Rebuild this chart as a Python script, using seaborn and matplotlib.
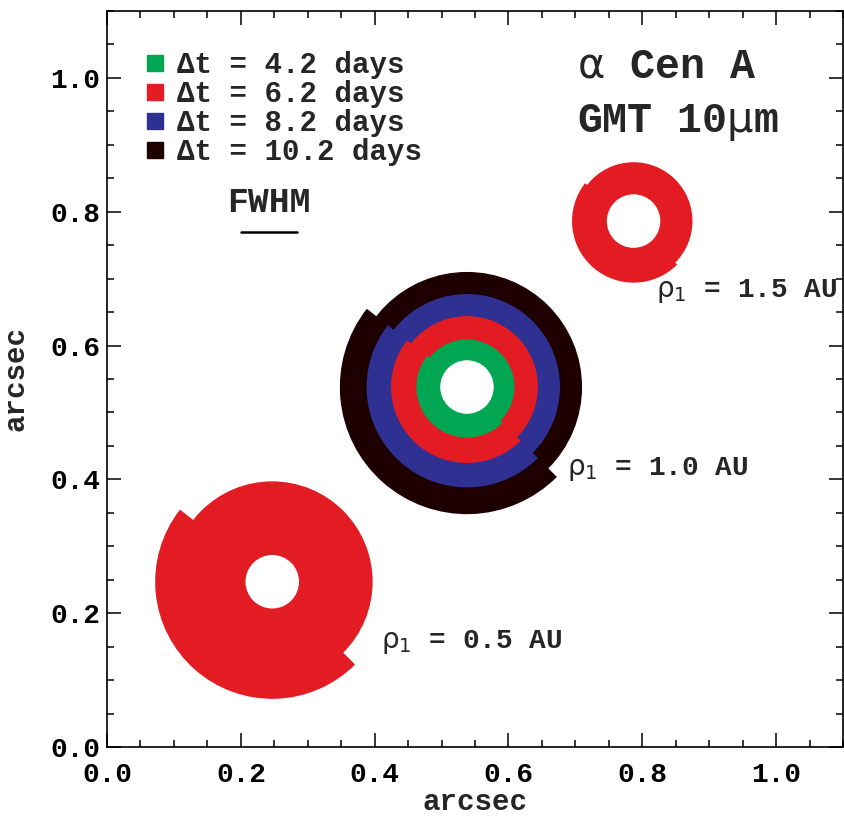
import matplotlib
matplotlib.use("Agg")
import matplotlib.pyplot as plt
from matplotlib.lines import Line2D
from matplotlib.patches import Circle, Wedge
from matplotlib.ticker import MultipleLocator
import pandas as pd
import seaborn as sns


# time baseline of each data set (days) and its colour
DT_DAYS = [4.2, 6.2, 8.2, 10.2]
DT_COLORS = ["#00a651", "#e31b23", "#2e3192", "#1e0000"]

# one row per ring, outermost first so inner rings sit on top
RING_RHO = [0.5, 1.0, 1.0, 1.0, 1.0, 1.5]
RING_DT = [6.2, 10.2, 8.2, 6.2, 4.2, 6.2]
RING_X = [0.247, 0.538, 0.538, 0.538, 0.538, 0.787]
RING_Y = [0.247, 0.538, 0.538, 0.538, 0.538, 0.786]
RING_R_NEAR = [0.150, 0.172, 0.139, 0.106, 0.071, 0.088]
RING_R_FAR = [0.175, 0.190, 0.150, 0.1135, 0.0755, 0.092]
HOLE_R = 0.040
STEP_ANGLES = (142, 315)

# label spot for each rho_1 (arcsec)
LABEL_RHO = [0.5, 1.0, 1.5]
LABEL_X = [0.410, 0.687, 0.821]
LABEL_Y = [0.148, 0.407, 0.673]

FWHM_ARCSEC = 0.084
FWHM_X0 = 0.2005
FWHM_Y = 0.770


def configure_plotting():
    sns.set_theme(style="ticks")
    plt.rcParams.update(
        {
            "font.family": ["Liberation Mono", "DejaVu Sans"],
            "font.weight": "bold",
            "axes.labelweight": "bold",
            "mathtext.fontset": "custom",
            "mathtext.rm": "DejaVu Sans:weight=normal",
            "mathtext.it": "DejaVu Sans:weight=normal",
            "mathtext.bf": "DejaVu Sans:weight=normal",
            "mathtext.default": "rm",
            "axes.edgecolor": "black",
            "axes.linewidth": 1.2,
            "xtick.color": "black",
            "ytick.color": "black",
        }
    )


def main():
    configure_plotting()
    df = pd.DataFrame(
        {
            "rho": RING_RHO,
            "dt": RING_DT,
            "x": RING_X,
            "y": RING_Y,
            "r_near": RING_R_NEAR,
            "r_far": RING_R_FAR,
        }
    )
    palette = dict(zip(DT_DAYS, DT_COLORS))

    fig = plt.figure(figsize=(8.45, 8.18), dpi=100)
    ax = fig.add_axes([107 / 845, 71 / 818, 736 / 845, 736 / 818])

    for row in df.itertuples():
        color = palette[row.dt]
        ax.add_patch(Circle((row.x, row.y), row.r_near, color=color, lw=0))
        ax.add_patch(Wedge((row.x, row.y), row.r_far, *STEP_ANGLES, color=color, lw=0))
    for (cx, cy), _ in df.groupby(["x", "y"]):
        ax.add_patch(Circle((cx, cy), HOLE_R, color="white", lw=0))

    for rho, lx, ly in zip(LABEL_RHO, LABEL_X, LABEL_Y):
        ax.text(lx, ly, rf"$\rho_1$ = {rho:.1f} AU", fontsize=20, va="baseline")

    ax.text(0.6386, 0.910, r"$\alpha$ Cen A", transform=ax.transAxes,
            fontsize=30, va="baseline")
    ax.text(0.6386, 0.8356, r"GMT 10$\mu$m", transform=ax.transAxes,
            fontsize=30, va="baseline")

    sns.lineplot(x=[FWHM_X0, FWHM_X0 + FWHM_ARCSEC], y=[FWHM_Y, FWHM_Y],
                 color="black", linewidth=1.8, ax=ax)
    ax.text(FWHM_X0 + FWHM_ARCSEC / 2, 0.799, "FWHM", ha="center",
            va="baseline", fontsize=25)

    handles = [Line2D([], [], ls="", marker="s", ms=11.5, color=c) for c in DT_COLORS]
    labels = [f"Δt = {d} days" for d in DT_DAYS]
    ax.legend(handles, labels, loc="upper left", bbox_to_anchor=(0.049, 0.946),
              frameon=False, fontsize=21, handlelength=0.8, handletextpad=0.35,
              labelspacing=0.04, borderpad=0, borderaxespad=0)

    ax.set_xlim(0, 1.1)
    ax.set_ylim(0, 1.1)
    for axis in (ax.xaxis, ax.yaxis):
        axis.set_major_locator(MultipleLocator(0.2))
        axis.set_minor_locator(MultipleLocator(0.05))
    ax.tick_params(which="both", direction="in", top=True, right=True, width=1.1)
    ax.tick_params(which="major", length=10)
    ax.tick_params(which="minor", length=5)
    ax.tick_params(axis="x", labelsize=20, pad=11)
    ax.tick_params(axis="y", labelsize=20, pad=5)

    ax.set_xlabel("arcsec", fontsize=21)
    ax.set_ylabel("arcsec", fontsize=21)
    ax.xaxis.set_label_coords(0.5, -0.056)
    ax.yaxis.set_label_coords(-0.105, 0.5)

    fig.savefig("out.png", dpi=100)
    plt.close(fig)


if __name__ == "__main__":
    main()
